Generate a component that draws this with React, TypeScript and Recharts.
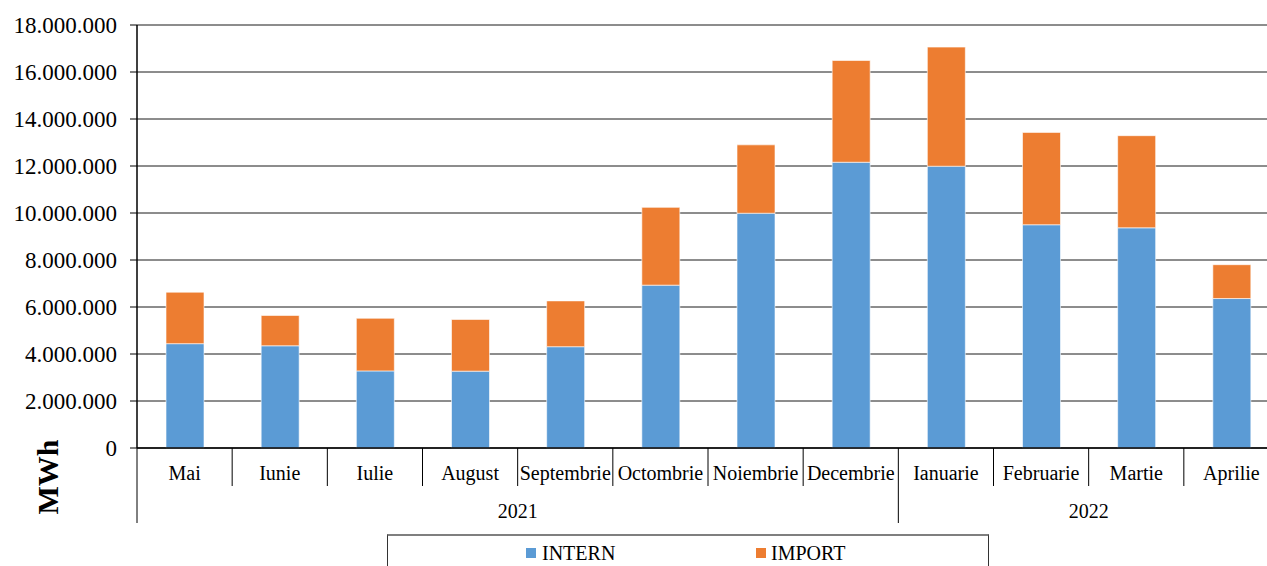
import React from 'react';
import { BarChart, Bar, XAxis, YAxis, CartesianGrid } from 'recharts';

const months = [
  'Mai', 'Iunie', 'Iulie', 'August', 'Septembrie', 'Octombrie',
  'Noiembrie', 'Decembrie', 'Ianuarie', 'Februarie', 'Martie', 'Aprilie',
];
const yearGroups = [
  { label: '2021', count: 8 },
  { label: '2022', count: 4 },
];
const internValues = [
  4440000, 4350000, 3280000, 3270000, 4310000, 6930000,
  9990000, 12160000, 11990000, 9500000, 9370000, 6360000,
];
const importValues = [
  2190000, 1290000, 2240000, 2200000, 1950000, 3310000,
  2910000, 4330000, 5070000, 3930000, 3920000, 1440000,
];
const yTicks = [0, 2000000, 4000000, 6000000, 8000000, 10000000, 12000000, 14000000, 16000000, 18000000];

const data = months.map((m, i) => ({
  month: m,
  intern: internValues[i],
  import: importValues[i],
}));

const FONT = "'Liberation Serif', 'Times New Roman', serif";
const CHART_W = 1290;
const CHART_H = 566;
const PLOT_LEFT = 137;
const PLOT_RIGHT = 1279;
const BAND = (PLOT_RIGHT - PLOT_LEFT) / months.length;

const fmt = (n: number) => String(n).replace(/\B(?=(\d{3})+(?!\d))/g, '.');

const groupStarts: number[] = [];
{
  let s = 0;
  yearGroups.forEach((g) => {
    groupStarts.push(s);
    s += g.count;
  });
}

function MonthTick(props: any) {
  const { x, y, payload } = props;
  const index = months.indexOf(payload.value);
  const left = x - BAND / 2;
  const gi = groupStarts.indexOf(index);
  const isLast = index === months.length - 1;
  return (
    <g>
      <line x1={left} x2={left} y1={y} y2={y + (gi >= 0 ? 75 : 38)} stroke="#000" strokeWidth={1} />
      {isLast && (
        <line x1={x + BAND / 2} x2={x + BAND / 2} y1={y} y2={y + 75} stroke="#000" strokeWidth={1} />
      )}
      <text x={x} y={y + 32} textAnchor="middle" fontFamily={FONT} fontSize={20} fill="#000">
        {payload.value}
      </text>
      {gi >= 0 && (
        <text
          x={left + (yearGroups[gi].count * BAND) / 2}
          y={y + 70}
          textAnchor="middle"
          fontFamily={FONT}
          fontSize={20}
          fill="#000"
        >
          {yearGroups[gi].label}
        </text>
      )}
    </g>
  );
}

export default function App() {
  return (
    <div
      style={{
        position: 'absolute',
        left: 0,
        top: 0,
        width: 1267,
        height: 566,
        overflow: 'hidden',
        background: '#fff',
      }}
    >
      <BarChart
        width={CHART_W}
        height={CHART_H}
        data={data}
        margin={{ top: 25, right: CHART_W - PLOT_RIGHT, bottom: 38, left: 0 }}
        barSize={38}
      >
        <CartesianGrid vertical={false} stroke="#1a1a1a" strokeWidth={1} />
        <XAxis
          dataKey="month"
          height={80}
          tickSize={0}
          tickMargin={0}
          tickLine={false}
          axisLine={{ stroke: '#000', strokeWidth: 1.5 }}
          interval={0}
          tick={<MonthTick />}
        />
        <YAxis
          width={PLOT_LEFT}
          domain={[0, 18000000]}
          ticks={yTicks}
          tickFormatter={fmt}
          tickSize={7}
          tickMargin={13}
          tickLine={{ stroke: '#000' }}
          axisLine={{ stroke: '#000', strokeWidth: 1.5 }}
          tick={{ fontFamily: FONT, fontSize: 23, fill: '#000' }}
          interval={0}
        />
        <Bar
          dataKey="intern"
          stackId="a"
          fill="#5B9BD5"
          stroke="#ffffff"
          strokeOpacity={0.6}
          strokeWidth={1}
          isAnimationActive={false}
        />
        <Bar
          dataKey="import"
          stackId="a"
          fill="#ED7D31"
          stroke="#ffffff"
          strokeOpacity={0.6}
          strokeWidth={1}
          isAnimationActive={false}
        />
      </BarChart>

      <svg
        width={80}
        height={120}
        style={{ position: 'absolute', left: 0, top: 420 }}
      >
        <line x1={PLOT_LEFT} x2={PLOT_LEFT} y1={0} y2={0} />
        <text
          x={47}
          y={57}
          transform="rotate(-90 47 57)"
          textAnchor="middle"
          dominantBaseline="central"
          fontFamily={FONT}
          fontWeight="bold"
          fontSize={30}
          fill="#000"
        >
          MWh
        </text>
      </svg>

      <div
        style={{
          position: 'absolute',
          left: 387,
          top: 534,
          width: 600,
          height: 40,
          borderTop: '2px solid #7f7f7f',
          borderLeft: '1px solid #333',
          borderRight: '1px solid #333',
          fontFamily: FONT,
          fontSize: 20,
          color: '#000',
        }}
      >
        <span style={{ position: 'absolute', left: 138, top: 12, width: 10, height: 10, background: '#5B9BD5' }} />
        <span style={{ position: 'absolute', left: 154, top: 5, lineHeight: '24px' }}>INTERN</span>
        <span style={{ position: 'absolute', left: 368, top: 12, width: 10, height: 10, background: '#ED7D31' }} />
        <span style={{ position: 'absolute', left: 383, top: 5, lineHeight: '24px' }}>IMPORT</span>
      </div>
    </div>
  );
}
